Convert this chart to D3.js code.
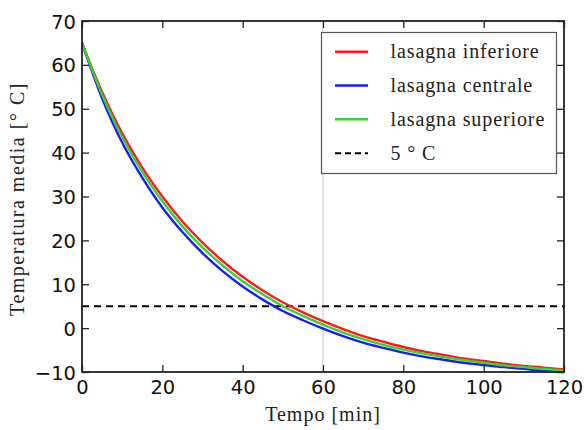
<!DOCTYPE html>
<html>
<head>
<meta charset="utf-8">
<script src="https://cdn.jsdelivr.net/npm/d3@7"></script>
<style>
  html, body { margin: 0; padding: 0; background: #fff; }
  svg { display: block; }
</style>
</head>
<body>
<svg id="chart" width="588" height="430"></svg>
<script>
// ---- data ----
const time = [0, 5, 10, 15, 20, 25, 30, 35, 40, 45, 50, 55, 60, 65, 70, 75, 80, 85, 90, 95, 100, 105, 110, 115, 120];
const inferiore = [65, 53.8, 44.4, 36.6, 30.0, 24.3, 19.5, 15.3, 11.7, 8.6, 5.9, 3.6, 1.6, -0.2, -1.8, -3.1, -4.3, -5.3, -6.1, -6.9, -7.5, -8.1, -8.6, -9.0, -9.4];
const centrale  = [65, 52.4, 42.3, 34.3, 27.5, 21.9, 17.1, 13.0, 9.5, 6.5, 3.9, 1.8, -0.1, -1.8, -3.3, -4.5, -5.6, -6.5, -7.2, -7.9, -8.4, -8.9, -9.3, -9.7, -10.0];
const superiore = [65, 53.2, 43.5, 35.6, 28.9, 23.2, 18.4, 14.3, 10.7, 7.7, 5.0, 2.8, 0.8, -1.0, -2.5, -3.8, -4.9, -5.8, -6.6, -7.3, -7.9, -8.5, -8.9, -9.3, -9.6];
const threshold = 5;
const markerTime = 60;
const seriesNames = ["lasagna inferiore", "lasagna centrale", "lasagna superiore"];
const thresholdLabel = "5 ° C";
const xTicks = [0, 20, 40, 60, 80, 100, 120];
const yTicks = [-10, 0, 10, 20, 30, 40, 50, 60, 70];
const xLabel = "Tempo [min]";
const yLabel = "Temperatura media [° C]";

// ---- layout ----
const L = 82, R = 564, T = 21, B = 372;
const colors = ["#ff1a1a", "#1a1aff", "#33d433"];
const svg = d3.select("#chart");

const x = d3.scaleLinear().domain([0, 120]).range([L, R]);
const y = d3.scaleLinear().domain([-10, 70]).range([B, T]);

// marker vertical line
svg.append("line")
  .attr("x1", x(markerTime)).attr("x2", x(markerTime))
  .attr("y1", T).attr("y2", B)
  .attr("stroke", "#d9d9d9").attr("stroke-width", 1.5);

// threshold dashed line
svg.append("line")
  .attr("x1", x(0)).attr("x2", x(120))
  .attr("y1", y(threshold)).attr("y2", y(threshold))
  .attr("stroke", "#000").attr("stroke-width", 2)
  .attr("stroke-dasharray", "7,5");

// series
const series = [inferiore, centrale, superiore];
const line = d3.line().x(d => x(d[0])).y(d => y(d[1])).curve(d3.curveCatmullRom.alpha(0.5));
[0, 1, 2].forEach(i => {
  svg.append("path")
    .datum(time.map((t, j) => [t, series[i][j]]))
    .attr("fill", "none")
    .attr("stroke", colors[i])
    .attr("stroke-width", 2.4)
    .attr("d", line);
});

// axes (ticks inward on all sides)
const tickLen = 7;
const fontTicks = "'DejaVu Sans', sans-serif";
const axB = svg.append("g").attr("transform", `translate(0,${B})`)
  .call(d3.axisBottom(x).tickValues(xTicks).tickSizeInner(-tickLen).tickSizeOuter(0).tickPadding(8).tickFormat(d3.format("d")));
const axT = svg.append("g").attr("transform", `translate(0,${T})`)
  .call(d3.axisTop(x).tickValues(xTicks).tickSizeInner(-tickLen).tickSizeOuter(0).tickFormat(""));
const axL = svg.append("g").attr("transform", `translate(${L},0)`)
  .call(d3.axisLeft(y).tickValues(yTicks).tickSizeInner(-tickLen).tickSizeOuter(0).tickPadding(6)
    .tickFormat(d => d < 0 ? "\u2212" + Math.abs(d) : String(d)));
const axR = svg.append("g").attr("transform", `translate(${R},0)`)
  .call(d3.axisRight(y).tickValues(yTicks).tickSizeInner(-tickLen).tickSizeOuter(0).tickFormat(""));
[axB, axT, axL, axR].forEach(g => {
  g.select(".domain").remove();
  g.selectAll(".tick line").attr("stroke", "#222").attr("stroke-width", 1.3);
  g.selectAll("text").attr("font-family", fontTicks).attr("font-size", 19.5).attr("fill", "#111");
});
axL.selectAll("text").attr("dy", "0.36em");

// frame
svg.append("rect")
  .attr("x", L).attr("y", T).attr("width", R - L).attr("height", B - T)
  .attr("fill", "none").attr("stroke", "#222").attr("stroke-width", 1.8);

// axis labels
const serif = "'Liberation Serif', 'DejaVu Serif', serif";
svg.append("text")
  .attr("x", (L + R) / 2).attr("y", 421)
  .attr("text-anchor", "middle")
  .attr("font-family", serif).attr("font-size", 20).attr("letter-spacing", 1.0).attr("fill", "#222")
  .text(xLabel);
svg.append("text")
  .attr("transform", `translate(24,${199}) rotate(-90)`)
  .attr("text-anchor", "middle")
  .attr("font-family", serif).attr("font-size", 20).attr("letter-spacing", 1.5).attr("fill", "#222")
  .text(yLabel);

// legend
const lg = svg.append("g");
lg.append("rect")
  .attr("x", 321.5).attr("y", 32.5).attr("width", 235).attr("height", 141)
  .attr("fill", "#fff").attr("stroke", "#555").attr("stroke-width", 1.2);
const rowY = [51.7, 85.5, 119.3, 153.2];
const legendItems = seriesNames.map((n, i) => ({ name: n, color: colors[i], dash: null }))
  .concat([{ name: thresholdLabel, color: "#000", dash: "6,4" }]);
legendItems.forEach((it, i) => {
  lg.append("line")
    .attr("x1", 335).attr("x2", 368)
    .attr("y1", rowY[i]).attr("y2", rowY[i])
    .attr("stroke", it.color).attr("stroke-width", it.dash ? 2 : 2.4)
    .attr("stroke-dasharray", it.dash);
  lg.append("text")
    .attr("x", 390.5).attr("y", rowY[i]).attr("dy", "0.32em")
    .attr("font-family", serif).attr("font-size", 20).attr("letter-spacing", 0.9).attr("fill", "#222")
    .text(it.name);
});
</script>
</body>
</html>
